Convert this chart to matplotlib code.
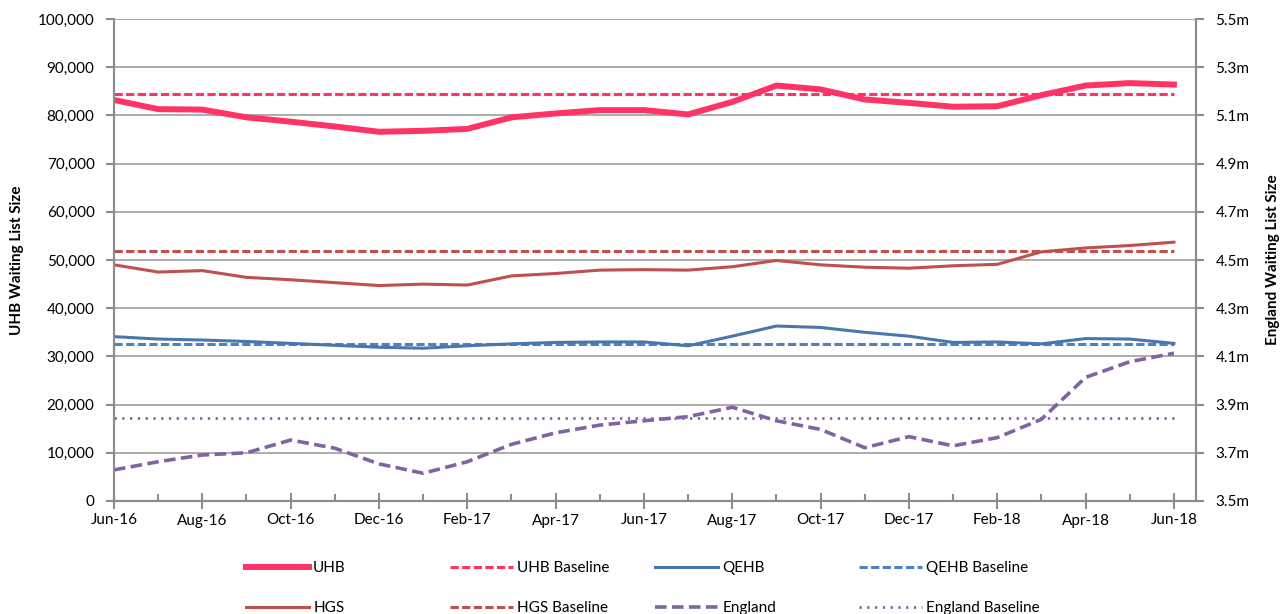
import numpy as np
import matplotlib.pyplot as plt
from matplotlib.ticker import FuncFormatter, MultipleLocator
from matplotlib.lines import Line2D

plt.rcParams['font.family'] = ['Lato', 'DejaVu Sans']

months = ['Jun-16', 'Jul-16', 'Aug-16', 'Sep-16', 'Oct-16', 'Nov-16', 'Dec-16', 'Jan-17',
          'Feb-17', 'Mar-17', 'Apr-17', 'May-17', 'Jun-17', 'Jul-17', 'Aug-17', 'Sep-17',
          'Oct-17', 'Nov-17', 'Dec-17', 'Jan-18', 'Feb-18', 'Mar-18', 'Apr-18', 'May-18', 'Jun-18']

uhb = [83200, 81300, 81200, 79600, 78700, 77700, 76600, 76800, 77200, 79600, 80400, 81100, 81100,
       80200, 82800, 86200, 85400, 83300, 82600, 81800, 81900, 84200, 86200, 86700, 86400]
hgs = [49000, 47500, 47800, 46400, 45900, 45300, 44700, 45000, 44800, 46700, 47200, 47900, 48000,
       47900, 48600, 49900, 49000, 48500, 48300, 48800, 49100, 51700, 52500, 53000, 53700]
qehb = [34100, 33600, 33400, 33100, 32700, 32300, 31900, 31700, 32200, 32600, 32900, 33000, 33000,
        32200, 34200, 36300, 36000, 35000, 34200, 32900, 33000, 32600, 33700, 33600, 32700]
# England in millions (right axis)
england = [3.629, 3.663, 3.691, 3.700, 3.753, 3.719, 3.654, 3.615, 3.663, 3.735, 3.783, 3.815, 3.833,
           3.850, 3.889, 3.833, 3.797, 3.721, 3.767, 3.729, 3.763, 3.839, 4.013, 4.078, 4.113]

uhb_base = 84400
hgs_base = 51800
qehb_base = 32600
england_base = 3.843

c_uhb = '#FF3366'
c_hgs = '#C0504D'
c_qehb = '#4A76AE'
c_qehb_b = '#4F81BD'
c_eng = '#8064A2'
grey = '#8C8C8C'

x = np.arange(len(months))
n = len(months)

fig = plt.figure(figsize=(12.82, 6.14), dpi=100)
ax = fig.add_axes([114/1282, 1-501/614, (1196-114)/1282, (501-19)/614])
ax2 = ax.twinx()

ax.yaxis.grid(True, color='#A6A6A6', lw=1.3)
ax.set_axisbelow(True)

ax.plot(x, [uhb_base]*n, color=c_uhb, lw=2.2, dashes=(2.7, 1.1))
ax.plot(x, [hgs_base]*n, color=c_hgs, lw=2.2, dashes=(2.7, 1.1))
ax.plot(x, [qehb_base]*n, color=c_qehb_b, lw=2.2, dashes=(2.7, 1.1))
ax.plot(x, uhb, color=c_uhb, lw=4.3, solid_joinstyle='round')
ax.plot(x, hgs, color=c_hgs, lw=2.2)
ax.plot(x, qehb, color=c_qehb, lw=2.2)
ax2.plot(x, [england_base]*n, color=c_eng, lw=2.0, dashes=(0.8, 2.0))
ax2.plot(x, england, color=c_eng, lw=2.6, dashes=(3.2, 1.5))

ax.set_xlim(0, 24.5)
ax.set_ylim(0, 100000)
ax2.set_ylim(3.5, 5.5)
ax.yaxis.set_major_locator(MultipleLocator(10000))
ax2.set_yticks(np.arange(3.5, 5.51, 0.2))
ax.yaxis.set_major_formatter(FuncFormatter(lambda v, p: f'{int(v):,}'))
ax2.yaxis.set_major_formatter(FuncFormatter(lambda v, p: f'{v:.1f}m'))

ax.set_xticks(x[::2])
ax.set_xticklabels(months[::2])
ax.set_xticks(x, minor=True)

for a in (ax, ax2):
    for s in a.spines.values():
        s.set_color(grey)
        s.set_linewidth(1.5)
    a.spines['top'].set_visible(False)
    a.tick_params(which='both', colors=grey, labelcolor='black', labelsize=11)
ax.tick_params(axis='y', length=6, width=1.5, pad=8)
ax2.tick_params(axis='y', length=6, width=1.5, pad=8)
ax.tick_params(axis='x', which='major', direction='inout', length=12, width=1.5, pad=3)
ax.tick_params(axis='x', which='minor', direction='in', length=5, width=1.5)

ax.set_ylabel('UHB Waiting List Size', fontsize=11, fontweight='bold', labelpad=10)
ax2.set_ylabel('England Waiting List Size', fontsize=11, fontweight='bold', labelpad=12)

# legend: 4 equal-width columns, second row clipped at the bottom edge
cols = [
    [('UHB', dict(color=c_uhb, lw=4.3)), ('HGS', dict(color=c_hgs, lw=2.2))],
    [('UHB Baseline', dict(color=c_uhb, lw=2.2, dashes=(2.7, 1.1))),
     ('HGS Baseline', dict(color=c_hgs, lw=2.2, dashes=(2.7, 1.1)))],
    [('QEHB', dict(color=c_qehb, lw=2.2)), ('England', dict(color=c_eng, lw=2.6, dashes=(3.2, 1.5)))],
    [('QEHB Baseline', dict(color=c_qehb_b, lw=2.2, dashes=(2.7, 1.1))),
     ('England Baseline', dict(color=c_eng, lw=2.0, dashes=(0.8, 2.0)))],
]
xpos = [246, 450, 655, 859]
for xp, col in zip(xpos, cols):
    handles = [Line2D([], [], **kw) for _, kw in col]
    labels = [lab for lab, _ in col]
    fig.legend(handles, labels, loc='upper left', bbox_to_anchor=(xp/1282, 1-561/614),
               frameon=False, fontsize=11, handlelength=4.1, handletextpad=0.3,
               labelspacing=1.7, borderpad=0, borderaxespad=0)

fig.savefig('out.png', dpi=100)
